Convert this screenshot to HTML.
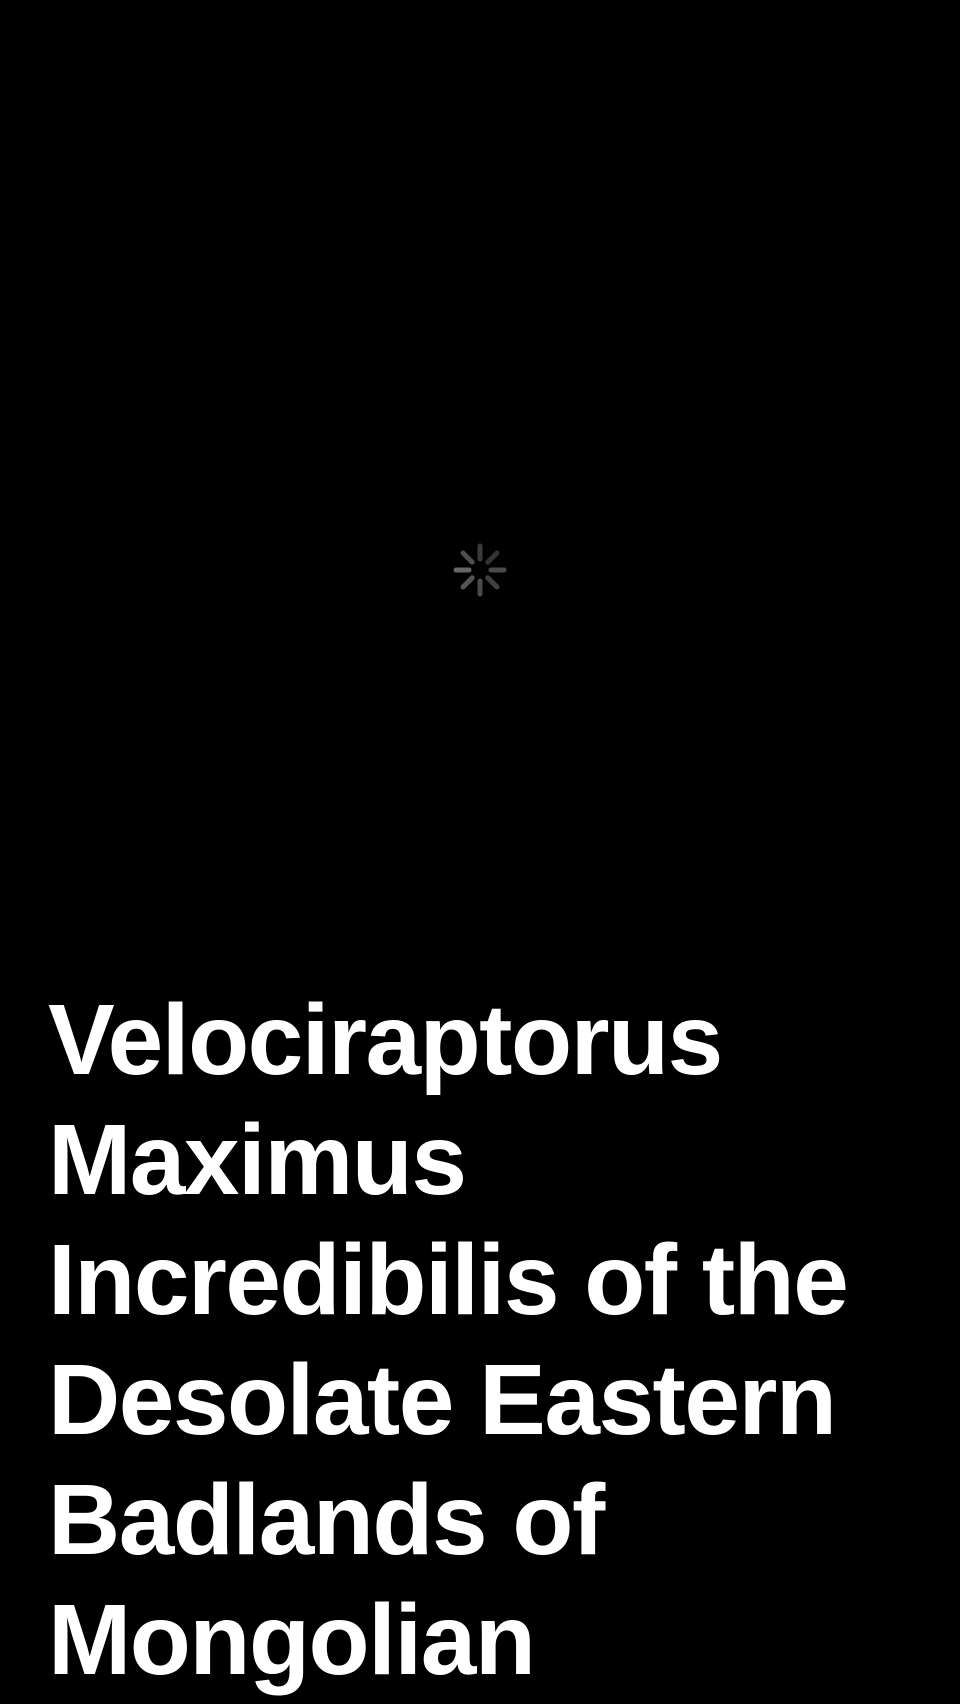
<!DOCTYPE html>
<html><head><meta charset="utf-8"><style>
html,body{margin:0;padding:0;background:#000;width:960px;height:1704px;overflow:hidden}
#title{position:absolute;left:48px;top:980px;width:900px;margin:0;color:#fff;font-family:"Liberation Sans",sans-serif;font-weight:bold;font-size:100px;line-height:120px;letter-spacing:-1.5px}
#spinner{position:absolute;left:451px;top:541px}
</style></head><body>
<svg id="spinner" width="58" height="58" viewBox="-29 -29 58 58">
<g stroke-linecap="round" stroke-width="5">
<line x1="0" y1="-11" x2="0" y2="-24" stroke="#3a3a3a"/>
<line x1="7.8" y1="-7.8" x2="17" y2="-17" stroke="#333"/>
<line x1="11" y1="0" x2="24" y2="0" stroke="#4a4a4a"/>
<line x1="7.8" y1="7.8" x2="17" y2="17" stroke="#404040"/>
<line x1="0" y1="11" x2="0" y2="24" stroke="#4a4a4a"/>
<line x1="-7.8" y1="7.8" x2="-17" y2="17" stroke="#555"/>
<line x1="-11" y1="0" x2="-24" y2="0" stroke="#666"/>
<line x1="-7.8" y1="-7.8" x2="-17" y2="-17" stroke="#4d4d4d"/>
</g></svg>
<h1 id="title">Velociraptorus Maximus Incredibilis of the Desolate Eastern Badlands of Mongolian</h1>
</body></html>
